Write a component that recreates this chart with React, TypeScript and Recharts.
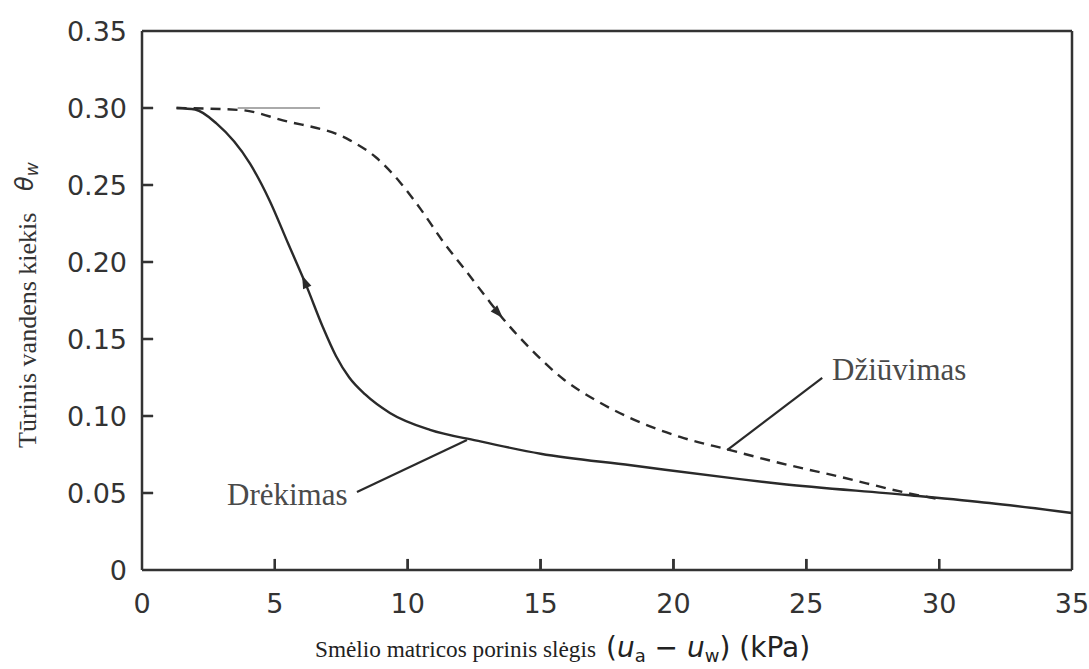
import React from "react";
import {
  LineChart,
  Line,
  XAxis,
  YAxis,
  Scatter,
  ReferenceLine,
  Label,
} from "recharts";

// Drėkimas (wetting, solid)
const wetX = [1.3, 2.0, 2.8, 4.06, 4.8, 5.5, 6.2, 6.8, 7.3, 7.8, 8.4, 9.33, 10.84, 12.6, 15, 18.4, 22.5, 24, 28.8, 31.9, 35];
const wetY = [0.3, 0.299, 0.29, 0.264, 0.24, 0.212, 0.184, 0.158, 0.139, 0.125, 0.114, 0.102, 0.091, 0.084, 0.0755, 0.068, 0.059, 0.056, 0.0487, 0.0435, 0.037];

// Džiūvimas (drying, dashed)
const dryX = [1.3, 3.7, 5.3, 7.83, 8.8, 9.7, 10.5, 11.3, 12.2, 13.0, 13.5, 14.6, 15.85, 17.1, 18.37, 20.25, 22.1, 24.0, 26.3, 28.8, 30];
const dryY = [0.3, 0.2987, 0.292, 0.279, 0.268, 0.252, 0.234, 0.214, 0.194, 0.176, 0.165, 0.144, 0.124, 0.11, 0.0987, 0.0864, 0.078, 0.0695, 0.0604, 0.05, 0.046];

const xTicks = [0, 5, 10, 15, 20, 25, 30, 35];
const yTicks = [0, 0.05, 0.1, 0.15, 0.2, 0.25, 0.3, 0.35];

// inward tick-mark length in data units (about 11 px)
const xTickLen = 0.0072;
const yTickLen = 0.42;

// direction arrows on the curves
const arrowX = [6.13, 13.4];
const arrowY = [0.187, 0.167];
const arrowAngle = [-113, 47];

// annotations
const noteText = ["Drėkimas", "Džiūvimas"];
const noteX = [3.2, 25.97];
const noteY = [0.0422, 0.1234];
const leaderFrom = [{ x: 8.09, y: 0.0506 }, { x: 22.02, y: 0.0779 }];
const leaderTo = [{ x: 12.23, y: 0.0844 }, { x: 25.6, y: 0.1247 }];

const wetData = wetX.map((x, i) => ({ x, y: wetY[i] }));
const dryData = dryX.map((x, i) => ({ x, y: dryY[i] }));
const arrowData = arrowX.map((x, i) => ({ x, y: arrowY[i], angle: arrowAngle[i] }));
const noteData = noteText.map((t, i) => ({ x: noteX[i], y: noteY[i], text: t }));
const innerX = xTicks.slice(1, -1);
const innerY = yTicks.slice(1, -1);

const INK = "#2a2a2a";
const AXIS = "#333";
const TICK_FONT = "DejaVu Sans, sans-serif";

const ArrowShape = (props: any) => {
  const { cx, cy, payload } = props;
  if (cx == null || cy == null) return null;
  return (
    <polygon
      points="7,0 -6,-4.5 -6,4.5"
      fill={INK}
      transform={`translate(${cx},${cy}) rotate(${payload.angle})`}
    />
  );
};

const NoteShape = (props: any) => {
  const { cx, cy, payload } = props;
  if (cx == null || cy == null) return null;
  return (
    <text
      x={cx}
      y={cy}
      fontFamily="Liberation Serif, Times New Roman, serif"
      fontSize={31}
      fill="#4a4a4a"
    >
      {payload.text}
    </text>
  );
};

const fmtY = (v: number) => (v === 0 ? "0" : v.toFixed(2));

const XTick = (props: any) => {
  const { x, y, payload } = props;
  const px = Number(x);
  const py = Number(y);
  const inner = payload.value > 0 && payload.value < 35;
  return (
    <g>
      {inner ? <path d={`M${px},${py}V${py - 11}`} stroke={AXIS} strokeWidth={2.2} fill="none" /> : null}
      <text x={px} y={py + 43} textAnchor="middle" fontFamily={TICK_FONT} fontSize={27} fill="#333">
        {payload.value}
      </text>
    </g>
  );
};

const YTick = (props: any) => {
  const { x, y, payload } = props;
  const px = Number(x);
  const py = Number(y);
  const inner = payload.value > 0 && payload.value < 0.35;
  return (
    <g>
      {inner ? <path d={`M${px},${py}H${px + 11}`} stroke={AXIS} strokeWidth={2.2} fill="none" /> : null}
      <text x={px - 15} y={py + 10} textAnchor="end" fontFamily={TICK_FONT} fontSize={27} fill="#333">
        {fmtY(payload.value)}
      </text>
    </g>
  );
};

const YLabel = (props: any) => {
  const vb = props.viewBox || {};
  const right = Number(vb.x) + Number(vb.width);
  const top = Number(vb.y);
  const h = Number(vb.height);
  return (
    <g>
      {Number.isFinite(right) && Number.isFinite(h)
        ? innerY.map((t) => {
            const py = top + h * (1 - t / 0.35);
            return <path key={t} d={`M${right},${py}H${right + 11}`} stroke={AXIS} strokeWidth={2.2} fill="none" />;
          })
        : null}
      <text
        x={36}
        y={448}
        transform="rotate(-90, 36, 448)"
        fontFamily="Liberation Serif, Times New Roman, serif"
        fontSize={26}
        fill="#333"
      >
        Tūrinis vandens kiekis
      </text>
      <text
        x={33}
        y={191}
        transform="rotate(-90, 33, 191)"
        fontFamily="DejaVu Sans, sans-serif"
        fontSize={24}
        fontStyle="italic"
        fill="#333"
      >
        θ
        <tspan fontSize={17} dy={5}>w</tspan>
      </text>
    </g>
  );
};

const XLabel = (props: any) => {
  const vb = props.viewBox || {};
  const left = Number(vb.x);
  const top = Number(vb.y);
  const w = Number(vb.width);
  return (
    <g>
      {Number.isFinite(left) && Number.isFinite(w)
        ? innerX.map((t) => {
            const px = left + (w * t) / 35;
            return <path key={t} d={`M${px},${top}V${top - 11}`} stroke={AXIS} strokeWidth={2.2} fill="none" />;
          })
        : null}
      <text
        x={315}
        y={657}
        fill="#222"
        fontFamily="Liberation Serif, Times New Roman, serif"
        fontSize={24}
        textLength={281}
        lengthAdjust="spacingAndGlyphs"
      >
        Smėlio matricos porinis slėgis
      </text>
      <text x={606} y={657} fill="#222" fontFamily="DejaVu Sans, sans-serif" fontSize={28}>
        <tspan>(</tspan>
        <tspan fontStyle="italic">u</tspan>
        <tspan fontSize={18} dy={5}>a</tspan>
        <tspan dy={-5}> − </tspan>
        <tspan fontStyle="italic">u</tspan>
        <tspan fontSize={18} dy={5}>w</tspan>
        <tspan dy={-5}>) (kPa)</tspan>
      </text>
    </g>
  );
};

export default function App() {
  return (
    <div style={{ position: "absolute", left: 0, top: 0, background: "#fff" }}>
      <LineChart
        width={1089}
        height={669}
        margin={{ top: 31, right: 17, bottom: 0, left: 0 }}
      >
        <XAxis
          dataKey="x"
          type="number"
          domain={[0, 35]}
          ticks={xTicks}
          interval={0}
          height={99}
          tickSize={0}
          tickMargin={0}
          tickLine={false}
          axisLine={{ stroke: AXIS, strokeWidth: 2.5 }}
          tick={XTick}
        >
          <Label content={XLabel} />
        </XAxis>
        <YAxis
          dataKey="y"
          type="number"
          domain={[0, 0.35]}
          ticks={yTicks}
          interval={0}
          width={142}
          tickSize={0}
          tickMargin={0}
          tickLine={false}
          axisLine={{ stroke: AXIS, strokeWidth: 2.5 }}
          tick={YTick}
        >
          <Label content={YLabel} />
        </YAxis>
        <ReferenceLine y={0.35} stroke={AXIS} strokeWidth={2.5} />
        <ReferenceLine x={35} stroke={AXIS} strokeWidth={2.5} />
        <ReferenceLine
          segment={[{ x: 3.6, y: 0.3 }, { x: 6.7, y: 0.3 }]}
          stroke="#aaa"
          strokeWidth={2}
        />
        {leaderFrom.map((p, i) => (
          <ReferenceLine
            key={"ld" + i}
            segment={[p, leaderTo[i]]}
            stroke={INK}
            strokeWidth={2.2}
          />
        ))}
        {innerX.map((t) => (
          <Line
            key={"xm" + t}
            data={[{ x: t, y: 0 }, { x: t, y: xTickLen }]}
            dataKey="y"
            type="linear"
            stroke={AXIS}
            strokeWidth={2.2}
            dot={false}
            activeDot={false}
            legendType="none"
            isAnimationActive={false}
          />
        ))}
        {innerY.map((t) => (
          <Line
            key={"ym" + t}
            data={[{ x: 0, y: t }, { x: yTickLen, y: t }]}
            dataKey="y"
            type="linear"
            stroke={AXIS}
            strokeWidth={2.2}
            dot={false}
            activeDot={false}
            legendType="none"
            isAnimationActive={false}
          />
        ))}
        <Line
          data={dryData}
          dataKey="y"
          type="monotone"
          stroke={INK}
          strokeWidth={2.4}
          strokeDasharray="10 7"
          dot={false}
          activeDot={false}
          isAnimationActive={false}
        />
        <Line
          data={wetData}
          dataKey="y"
          type="monotone"
          stroke={INK}
          strokeWidth={2.4}
          dot={false}
          activeDot={false}
          isAnimationActive={false}
        />
        <Scatter data={arrowData} dataKey="y" shape={ArrowShape} isAnimationActive={false} />
        <Scatter data={noteData} dataKey="y" shape={NoteShape} isAnimationActive={false} />
      </LineChart>
    </div>
  );
}
